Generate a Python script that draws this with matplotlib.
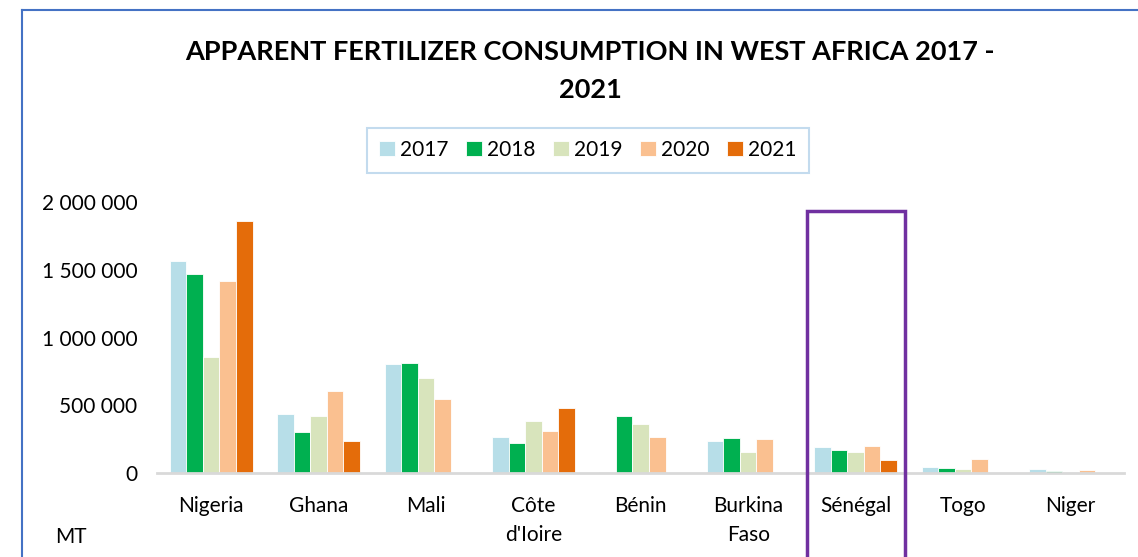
import matplotlib
matplotlib.use("Agg")
import matplotlib.pyplot as plt
import numpy as np
from matplotlib.lines import Line2D

countries = ["Nigeria", "Ghana", "Mali", "Côte\nd'Ioire", "Bénin", "Burkina\nFaso", "Sénégal", "Togo", "Niger"]
years = ["2017", "2018", "2019", "2020", "2021"]
v2017 = [1564000, 438000, 805000, 268000, 10000, 241000, 194000, 46000, 30000]
v2018 = [1473000, 307000, 814000, 226000, 421000, 263000, 172000, 39000, 17000]
v2019 = [860000, 421000, 706000, 384000, 366000, 160000, 157000, 32000, 10000]
v2020 = [1419000, 610000, 548000, 310000, 268000, 253000, 201000, 103000, 25000]
v2021 = [1860000, 238000, 0, 482000, 0, 0, 98000, 0, 0]
series = [v2017, v2018, v2019, v2020, v2021]
colors = ["#B7DEE8", "#00B050", "#D8E4BC", "#FAC090", "#E46C0A"]
yticks = [0, 500000, 1000000, 1500000, 2000000]
ytick_labels = ["0", "500 000", "1 000 000", "1 500 000", "2 000 000"]

plt.rcParams['font.family'] = ['Lato', 'DejaVu Sans']

fig = plt.figure(figsize=(11.38, 5.57), dpi=100)
ax = fig.add_axes([0.1384, 0.1503, 0.8493, 0.487])

x = np.arange(len(countries))
bw = 0.154
for i, (vals, c) in enumerate(zip(series, colors)):
    ax.bar(x + (i - 2) * bw, vals, width=bw, color=c, edgecolor="white", linewidth=0.6, label=years[i], zorder=2)

ax.set_xlim(-0.5, len(countries) - 0.5)
ax.set_ylim(0, 2000000)
ax.set_yticks(yticks)
ax.set_yticklabels(ytick_labels, fontsize=15)
ax.set_xticks(x)
ax.set_xticklabels(countries, fontsize=15, linespacing=1.6)
ax.tick_params(axis="both", length=0)
ax.tick_params(axis="y", pad=14.4)
ax.tick_params(axis="x", pad=16)
for s in ["top", "right", "left"]:
    ax.spines[s].set_visible(False)
ax.spines["bottom"].set_color("#D9D9D9")
ax.spines["bottom"].set_linewidth(2)
ax.spines["bottom"].set_zorder(3)

leg = fig.legend(loc="center", bbox_to_anchor=(588 / 1138, 1 - 150 / 557), ncol=5, fontsize=15,
                 frameon=True, handlelength=0.75, handleheight=0.75, handletextpad=0.25, columnspacing=0.85,
                 borderpad=0.6, fancybox=False)
leg.get_frame().set_edgecolor("#B4D3EA")
leg.get_frame().set_linewidth(1.5)

fig.text(590 / 1138, 1 - 52 / 557, "APPARENT FERTILIZER CONSUMPTION IN WEST AFRICA 2017 -",
         ha="center", va="center", fontsize=19.5, fontweight="bold")
fig.text(590 / 1138, 1 - 90 / 557, "2021", ha="center", va="center", fontsize=19.5, fontweight="bold")
fig.text(55 / 1138, 1 - 537 / 557, "MT", ha="left", va="center", fontsize=15)

# outer border
fig.add_artist(Line2D([22 / 1138, 22 / 1138], [0, 1 - 10 / 557], transform=fig.transFigure, color="#4472C4", lw=1.5))
fig.add_artist(Line2D([22 / 1138, 1], [1 - 10 / 557, 1 - 10 / 557], transform=fig.transFigure, color="#4472C4", lw=1.5))

# highlight box around Sénégal
fig.add_artist(Line2D([807 / 1138, 807 / 1138, 905 / 1138, 905 / 1138],
                      [0, 1 - 211 / 557, 1 - 211 / 557, 0], transform=fig.transFigure,
                      color="#7030A0", lw=2.5, solid_joinstyle="miter"))

fig.savefig("out.png", dpi=100)
